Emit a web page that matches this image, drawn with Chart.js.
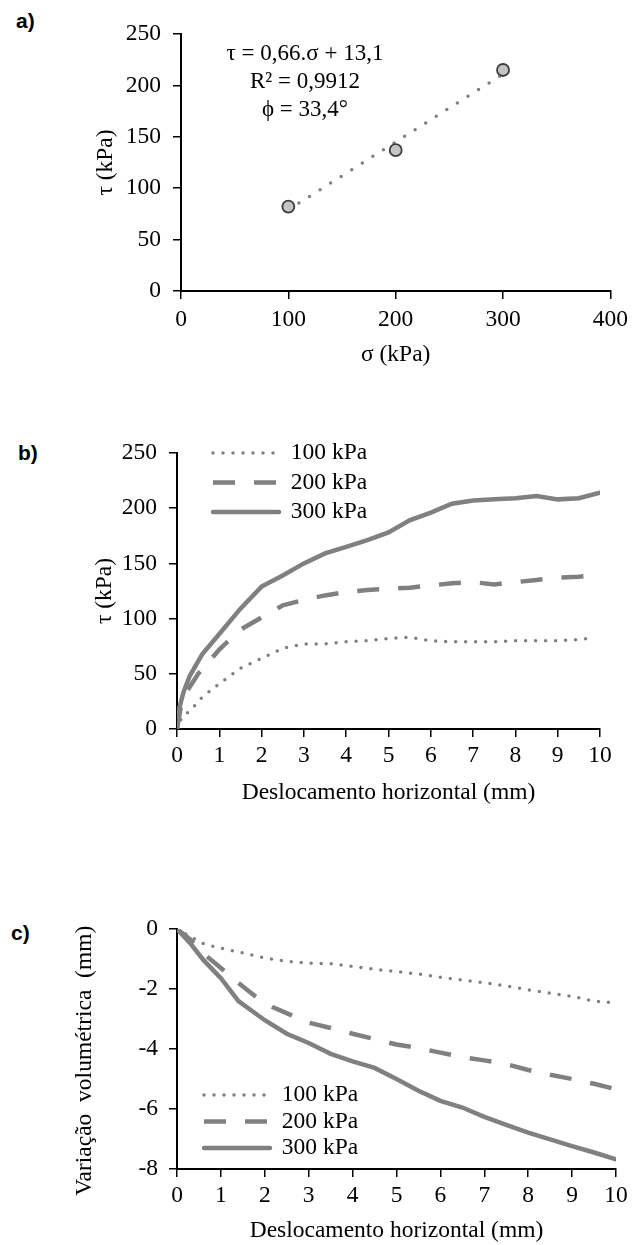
<!DOCTYPE html>
<html><head><meta charset="utf-8">
<script src="https://cdn.jsdelivr.net/npm/chart.js"></script>
<style>
html,body{margin:0;padding:0;background:#fff;}
#page{position:relative;width:635px;height:1245px;overflow:hidden;background:#fff;}
canvas{position:absolute;left:0;}
.panel{position:absolute;font-family:"Liberation Sans",Arial,sans-serif;font-weight:bold;font-size:21px;line-height:24px;color:#000;}
.eq{position:absolute;left:195px;top:39px;width:220px;text-align:center;font-family:"Liberation Serif","Times New Roman",serif;font-size:23px;line-height:28px;color:#000;}
</style></head><body>
<div id="page">
<div class="panel" style="left:16px;top:9px">a)</div>
<div class="panel" style="left:18px;top:441px">b)</div>
<div class="panel" style="left:11px;top:921px">c)</div>
<canvas id="ca" width="635" height="380" style="top:0"></canvas>
<canvas id="cb" width="635" height="420" style="top:400px"></canvas>
<canvas id="cc" width="635" height="365" style="top:880px"></canvas>
<div class="eq">τ = 0,66.σ + 13,1<br>R² = 0,9912<br>ϕ = 33,4°</div>
</div>
<script>
// ---------- data: chart a ----------
const aSigma = [100, 200, 300];
const aTau = [82, 137, 215];
const aTrendSigma = [100, 300];
const aTrendTau = [79, 211];
const aXTicks = [0, 100, 200, 300, 400];
const aYTicks = [0, 50, 100, 150, 200, 250];

// ---------- data: chart b ----------
const bDisp100 = [0, 0.12, 0.32, 0.6, 1.0, 1.5, 2.0, 2.5, 3.0, 3.5, 4.0, 4.5, 5.0, 5.5, 6.0, 6.5, 7.0, 7.5, 8.0, 8.5, 9.0, 9.5, 9.85];
const bTau100  = [0, 11, 17, 29, 41, 55, 64, 73, 77, 77, 79, 80, 82, 83, 80, 79, 79, 79, 80, 80, 80, 81, 82.5];
const bDisp200 = [0, 0.1, 0.25, 0.5, 0.8, 1.0, 1.5, 2.0, 2.5, 3.0, 3.5, 4.0, 4.5, 5.0, 5.5, 6.0, 6.5, 7.0, 7.5, 8.0, 8.5, 9.0, 9.5, 9.85];
const bTau200  = [0, 22, 35, 50, 63, 72, 90, 101, 112, 117, 121, 124, 126, 127, 128, 130, 132, 133, 131, 133, 135, 137, 138, 139];
const bDisp300 = [0, 0.05, 0.15, 0.3, 0.6, 1.0, 1.5, 2.0, 2.5, 3.0, 3.5, 4.0, 4.5, 5.0, 5.5, 6.0, 6.5, 7.0, 7.5, 8.0, 8.5, 9.0, 9.5, 10];
const bTau300  = [0, 18, 33, 48, 68, 86, 109, 129, 139, 150, 159, 165, 171, 178, 189, 196, 204, 207, 208, 209, 211, 208, 209, 214];
const bXTicks = [0, 1, 2, 3, 4, 5, 6, 7, 8, 9, 10];
const bYTicks = [0, 50, 100, 150, 200, 250];

// ---------- data: chart c ----------
const cDisp100 = [0, 0.3, 0.6, 1.0, 1.5, 2.0, 2.5, 3.0, 3.5, 4.0, 4.5, 5.0, 5.5, 6.0, 6.5, 7.0, 7.5, 8.0, 8.5, 9.0, 9.5, 9.9];
const cVol100  = [0, -0.25, -0.49, -0.64, -0.8, -0.97, -1.08, -1.14, -1.16, -1.25, -1.34, -1.42, -1.5, -1.61, -1.7, -1.79, -1.9, -2.03, -2.14, -2.25, -2.4, -2.45];
const cDisp200 = [0, 0.3, 0.67, 1.0, 1.4, 1.8, 2.2, 2.6, 3.0, 3.5, 4.0, 4.5, 5.0, 5.5, 6.0, 6.5, 7.0, 7.5, 8.0, 8.5, 9.0, 9.5, 10];
const cVol200  = [0, -0.35, -0.9, -1.3, -1.8, -2.26, -2.62, -2.87, -3.12, -3.3, -3.49, -3.67, -3.85, -3.97, -4.12, -4.27, -4.38, -4.5, -4.7, -4.86, -5.0, -5.16, -5.34];
const cDisp300 = [0, 0.3, 0.6, 1.0, 1.4, 2.0, 2.5, 3.0, 3.5, 4.0, 4.5, 5.0, 5.5, 6.0, 6.5, 7.0, 7.5, 8.0, 8.5, 9.0, 9.5, 10];
const cVol300  = [0, -0.47, -1.03, -1.64, -2.4, -3.04, -3.49, -3.8, -4.16, -4.41, -4.63, -5.0, -5.39, -5.73, -5.95, -6.26, -6.53, -6.79, -7.01, -7.24, -7.45, -7.68];
const cXTicks = [0, 1, 2, 3, 4, 5, 6, 7, 8, 9, 10];
const cYTicks = [-8, -6, -4, -2, 0];

const seriesLabels = ['100 kPa', '200 kPa', '300 kPa'];

// ---------- styling / helpers ----------
const FONT = '"Liberation Serif", "Times New Roman", serif';
const FS = 23.5;
const GRAY = '#808080';
const pts = (xs, ys) => xs.map((x, i) => ({x: x, y: ys[i]}));

function axis(o) {
  return {
    type: 'linear', min: o.min, max: o.max,
    afterBuildTicks: s => { s.ticks = o.ticks.map(v => ({value: v})); },
    afterFit: s => { if (o.width != null) s.width = o.width; if (o.height != null) s.height = o.height; },
    ticks: {color: '#000', font: {family: FONT, size: FS}, padding: o.tickPad, callback: v => String(v)},
    grid: {display: true, drawOnChartArea: false, drawTicks: true, tickLength: 8, color: '#000', lineWidth: 1.5},
    border: {display: true, color: '#000', width: 2},
    title: {display: true, text: o.title, color: '#000', font: {family: FONT, size: FS}, padding: o.titlePad}
  };
}

function genLabels(chart) {
  return chart.data.datasets.map((ds, i) => ({
    text: ds.label, datasetIndex: i, fontColor: '#000', hidden: false,
    strokeStyle: ds.borderColor, fillStyle: ds.borderColor, lineWidth: ds.borderWidth,
    lineDash: ds.borderDash || [], lineCap: ds.borderCapStyle || 'butt',
    pointStyle: 'line', rotation: 0
  }));
}

const placeLegend = {
  id: 'placeLegend',
  beforeDraw(chart, args, opts) {
    const lg = chart.legend;
    if (!lg || opts.left == null) return;
    lg.left = opts.left; lg.top = opts.top;
    lg.right = opts.left + 260; lg.bottom = opts.top + 160;
  }
};

function legendOpts(pad) {
  return {
    display: true, position: 'chartArea', align: 'start',
    labels: {usePointStyle: true, pointStyleWidth: 66, padding: pad, color: '#000',
             font: {family: FONT, size: FS}, generateLabels: genLabels}
  };
}

function curveSets(d100, y100, d200, y200, d300, y300) {
  return [
    {label: seriesLabels[0], data: pts(d100, y100), borderColor: GRAY, backgroundColor: GRAY,
     borderWidth: 3.5, borderDash: [0, 10], borderCapStyle: 'round', pointRadius: 0, tension: 0, fill: false},
    {label: seriesLabels[1], data: pts(d200, y200), borderColor: GRAY, backgroundColor: GRAY,
     borderWidth: 4.5, borderDash: [22, 19], borderCapStyle: 'butt', pointRadius: 0, tension: 0, fill: false},
    {label: seriesLabels[2], data: pts(d300, y300), borderColor: GRAY, backgroundColor: GRAY,
     borderWidth: 4.5, borderCapStyle: 'round', pointRadius: 0, tension: 0, fill: false}
  ];
}

// ---------- chart a ----------
new Chart(document.getElementById('ca'), {
  type: 'scatter',
  data: {datasets: [
    {label: 'Ensaios', data: pts(aSigma, aTau), pointRadius: 6, pointBackgroundColor: '#c4c4c4',
     pointBorderColor: '#3c3c3c', pointBorderWidth: 1.8, showLine: false},
    {label: 'Tendência', type: 'line', data: pts(aTrendSigma, aTrendTau), borderColor: GRAY,
     borderWidth: 3.5, borderDash: [0, 12.5], borderCapStyle: 'round', pointRadius: 0, fill: false}
  ]},
  options: {
    responsive: false, animation: false, events: [],
    layout: {padding: {top: 34, right: 22, left: 0, bottom: 0}},
    plugins: {legend: {display: false}, tooltip: {enabled: false}},
    scales: {
      x: axis({min: 0, max: 400, ticks: aXTicks, height: 89, tickPad: 7, title: 'σ (kPa)', titlePad: {top: 0, bottom: 11}}),
      y: axis({min: 0, max: 250, ticks: aYTicks, width: 181, tickPad: 12, title: 'τ (kPa)', titlePad: {top: 92, bottom: 0}})
    }
  }
});

// ---------- chart b ----------
new Chart(document.getElementById('cb'), {
  type: 'line',
  data: {datasets: curveSets(bDisp100, bTau100, bDisp200, bTau200, bDisp300, bTau300)},
  plugins: [placeLegend],
  options: {
    responsive: false, animation: false, events: [],
    layout: {padding: {top: 53, right: 35, left: 0, bottom: 0}},
    plugins: {legend: legendOpts(6), tooltip: {enabled: false}, placeLegend: {left: 207, top: 35.25}},
    scales: {
      x: axis({min: 0, max: 10, ticks: bXTicks, height: 91, tickPad: 5, title: 'Deslocamento horizontal (mm)', titlePad: {top: 0, bottom: 13}}),
      y: axis({min: 0, max: 250, ticks: bYTicks, width: 177, tickPad: 12, title: 'τ (kPa)', titlePad: {top: 91, bottom: 0}})
    }
  }
});

// ---------- chart c ----------
new Chart(document.getElementById('cc'), {
  type: 'line',
  data: {datasets: curveSets(cDisp100, cVol100, cDisp200, cVol200, cDisp300, cVol300)},
  plugins: [placeLegend],
  options: {
    responsive: false, animation: false, events: [],
    layout: {padding: {top: 49, right: 19, left: 0, bottom: 0}},
    plugins: {legend: legendOpts(3), tooltip: {enabled: false}, placeLegend: {left: 201, top: 200.25}},
    scales: {
      x: axis({min: 0, max: 10, ticks: cXTicks, height: 76, tickPad: 5, title: 'Deslocamento horizontal (mm)', titlePad: {top: 0, bottom: 0}}),
      y: axis({min: -8, max: 0, ticks: cYTicks, width: 177, tickPad: 11, title: 'Variação  volumétrica  (mm)    ', titlePad: {top: 71, bottom: 0}})
    }
  }
});
</script>
</body></html>
